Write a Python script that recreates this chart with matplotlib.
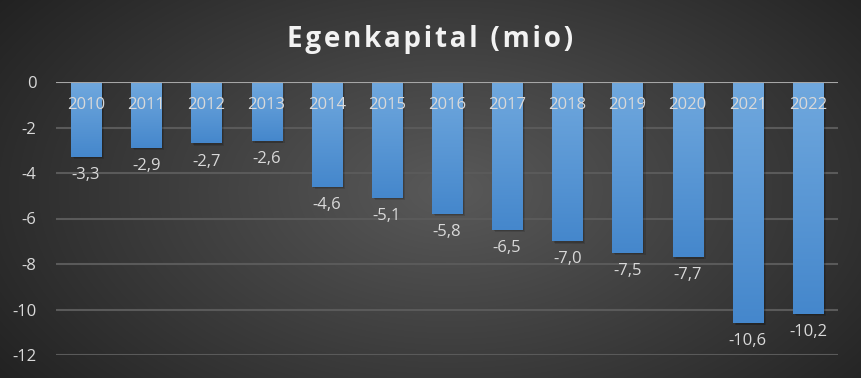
import numpy as np
import matplotlib.pyplot as plt
from matplotlib.patches import Rectangle

years = ["2010", "2011", "2012", "2013", "2014", "2015", "2016",
         "2017", "2018", "2019", "2020", "2021", "2022"]
egenkapital = [-3.3, -2.9, -2.7, -2.6, -4.6, -5.1, -5.8,
               -6.5, -7.0, -7.5, -7.7, -10.6, -10.2]
y_ticks = [0, -2, -4, -6, -8, -10, -12]
title = "Egenkapital (mio)"

plt.rcParams['font.family'] = ['Open Sans', 'DejaVu Sans']
txt = '#d9d9d9'

fig = plt.figure(figsize=(8.61, 3.78), dpi=100)

# radial dark background
bg = fig.add_axes([0, 0, 1, 1])
yy, xx = np.mgrid[0:378, 0:861]
r = np.sqrt(((xx - 450) / 560.0) ** 2 + ((yy - 190) / 330.0) ** 2)
shade = np.clip(0.35 - 0.22 * r, 0.12, 0.35)
bg.imshow(np.dstack([shade] * 3), aspect='auto', extent=[0, 1, 0, 1])
bg.axis('off')

ax = fig.add_axes([56 / 861, 1 - 355 / 378, (838 - 56) / 861, (355 - 82) / 378])
ax.patch.set_alpha(0)
x = np.arange(len(years))

for t in y_ticks[1:]:
    ax.axhline(t, color='#5a5a5a', lw=1.5, zorder=1)

bars = ax.bar(x, egenkapital, width=0.5, color='none', zorder=3)
top = np.array([0.44, 0.66, 0.87])
bot = np.array([0.27, 0.53, 0.80])
for b, v in zip(bars, egenkapital):
    # soft shadow
    for k, a in [(0.10, 0.12), (0.06, 0.15)]:
        ax.add_patch(Rectangle((b.get_x() + k * 0.5, v - k), b.get_width(), -v,
                               facecolor='black', alpha=a, lw=0, zorder=2))
    frac = np.linspace(0, 1, 256).reshape(256, 1, 1)
    img = top + (bot - top) * frac
    im = ax.imshow(img, aspect='auto', zorder=3,
                   extent=[b.get_x(), b.get_x() + b.get_width(), v, 0])
    im.set_clip_path(b)
    ax.text(b.get_x() + b.get_width() / 2, v - 0.45, f"{v:.1f}".replace('.', ','),
            ha='center', va='top', color=txt, fontsize=12, zorder=5)

ax.set_xlim(-0.5, len(years) - 0.5)
ax.set_ylim(-12, 0)
ax.axhline(0, color='#a6a6a6', lw=1.5, zorder=4)

for xi, yr in zip(x, years):
    ax.text(xi, -1.0, yr, ha='center', va='center', color=txt, fontsize=12, zorder=5)

ax.set_xticks([])
ax.set_yticks(y_ticks)
ax.set_yticklabels([str(t) for t in y_ticks], color=txt, fontsize=12)
ax.tick_params(axis='y', length=0, pad=14)
for s in ax.spines.values():
    s.set_visible(False)

# title with a little letter spacing
fig.text(0.5, 1 - 40 / 378, '\u200a'.join(title), ha='center', va='center',
         color='#f2f2f2', fontsize=20, fontweight='bold')

fig.savefig('out.png', dpi=100)
